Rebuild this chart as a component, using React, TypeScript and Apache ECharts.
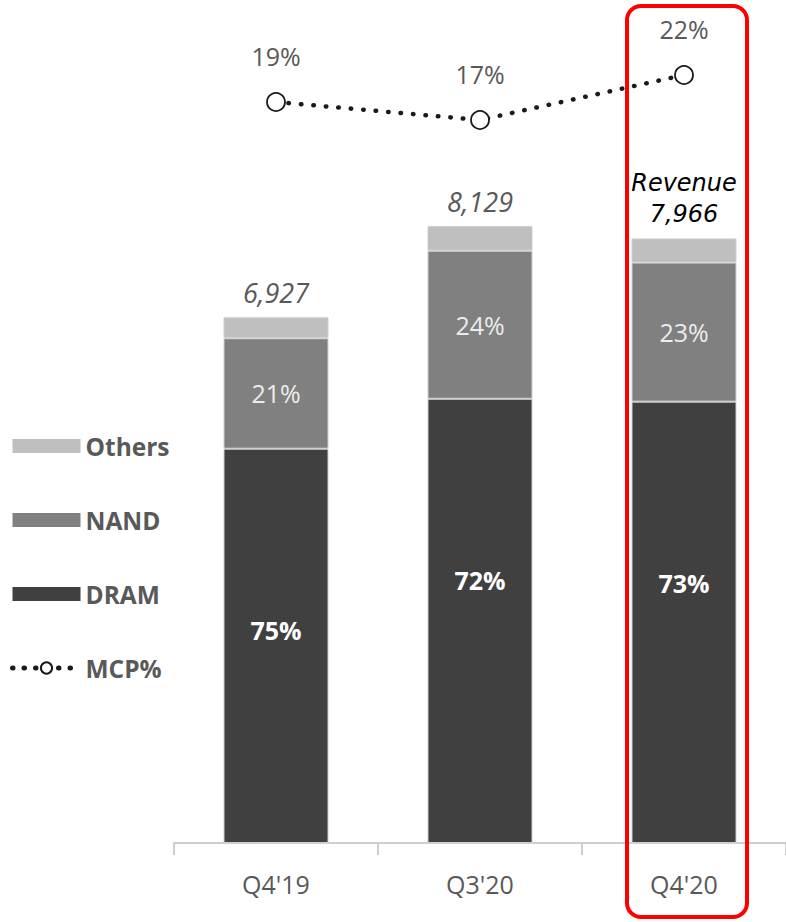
import React, { useEffect, useRef } from "react";
import * as echarts from "echarts";

const quarters = ["Q4'19", "Q3'20", "Q4'20"];
const revenue = [6927, 8129, 7966];
const dramPct = [75, 72, 73];
const nandPct = [21, 24, 23];
const othersPct = [4, 4, 4];
const mcpPct = [19, 17, 22];

const FONT = "'Open Sans', 'Noto Sans', sans-serif";
const WIDE_FONT = "'DejaVu Sans', Verdana, sans-serif";
const GREY_TEXT = "#595959";
const SEG_BORDER = { borderColor: "#cfcfcf", borderWidth: 1 };

export default function App() {
  const ref = useRef<HTMLDivElement>(null);

  useEffect(() => {
    if (!ref.current) return;
    const chart = echarts.init(ref.current, undefined, { renderer: "svg" });

    const part = (pct: number[]) => revenue.map((t, i) => (t * pct[i]) / 100);

    const option: echarts.EChartsOption = {
      animation: false,
      textStyle: { fontFamily: FONT },
      legend: {
        orient: "vertical",
        left: 5,
        top: 427,
        itemWidth: 68,
        itemHeight: 14,
        itemGap: 46,
        data: [
          { name: "Others", icon: "rect", itemStyle: { borderWidth: 0 } },
          { name: "NAND", icon: "rect", itemStyle: { borderWidth: 0 } },
          { name: "DRAM", icon: "rect", itemStyle: { borderWidth: 0 } },
          {
            name: "MCP%",
            lineStyle: { width: 5, type: [0.5, 11], cap: "round", color: "#1a1a1a" },
          },
        ],
        textStyle: {
          color: GREY_TEXT,
          fontSize: 24.5,
          fontWeight: "bold",
          fontFamily: FONT,
          lineHeight: 28,
        },
      },
      grid: [
        { left: 174, right: -3, top: 84, bottom: 79 },
        { left: 174, right: -3, top: 3, bottom: 649 },
      ],
      xAxis: [
        {
          type: "category",
          gridIndex: 0,
          data: quarters,
          axisLine: { lineStyle: { color: "#bfbfbf", width: 1.5 } },
          axisTick: { show: true, length: 12, lineStyle: { color: "#bfbfbf", width: 1.5 } },
          axisLabel: { color: GREY_TEXT, fontSize: 25, margin: 28, fontFamily: FONT },
        },
        {
          type: "category",
          gridIndex: 1,
          data: quarters,
          show: false,
        },
      ],
      yAxis: [
        { type: "value", gridIndex: 0, min: 0, max: 10000, show: false },
        { type: "value", gridIndex: 1, min: 0, max: 30, show: false },
      ],
      series: [
        {
          name: "DRAM",
          type: "bar",
          stack: "rev",
          barWidth: 105,
          data: part(dramPct),
          itemStyle: { color: "#404040", ...SEG_BORDER },
          label: {
            show: true,
            position: "insideTop",
            distance: 169,
            color: "#ffffff",
            fontSize: 25,
            fontWeight: "bold",
            fontFamily: FONT,
            formatter: (p: any) => `${dramPct[p.dataIndex]}%`,
          },
        },
        {
          name: "NAND",
          type: "bar",
          stack: "rev",
          data: part(nandPct),
          itemStyle: { color: "#808080", ...SEG_BORDER },
          label: {
            show: true,
            position: "inside",
            color: "#ececec",
            fontSize: 25,
            fontFamily: FONT,
            formatter: (p: any) => `${nandPct[p.dataIndex]}%`,
          },
        },
        {
          name: "Others",
          type: "bar",
          stack: "rev",
          data: part(othersPct),
          itemStyle: { color: "#bfbfbf", ...SEG_BORDER },
          label: {
            show: true,
            position: "top",
            distance: 9,
            fontFamily: FONT,
            formatter: (p: any) => {
              const v = revenue[p.dataIndex].toLocaleString("en-US");
              return p.dataIndex === quarters.length - 1 ? `{hl|Revenue}\n{hl|${v}}` : `{tot|${v}}`;
            },
            rich: {
              tot: { color: GREY_TEXT, fontSize: 27, fontStyle: "italic", fontFamily: FONT, lineHeight: 32 },
              hl: { color: "#000000", fontSize: 24, fontStyle: "italic", fontFamily: WIDE_FONT, lineHeight: 31 },
            },
          },
        },
        {
          name: "MCP%",
          type: "line",
          xAxisIndex: 1,
          yAxisIndex: 1,
          data: mcpPct,
          symbol: "circle",
          symbolSize: 18,
          lineStyle: { color: "#1a1a1a", width: 4.5, type: [0.5, 12], cap: "round" },
          itemStyle: { color: "#ffffff", borderColor: "#1a1a1a", borderWidth: 1.8 },
          label: {
            show: true,
            position: "top",
            distance: 24,
            color: GREY_TEXT,
            fontSize: 25,
            fontFamily: FONT,
            formatter: (p: any) => `${p.value}%`,
          },
          z: 5,
        },
      ],
      graphic: [
        {
          type: "rect",
          shape: { x: 627, y: 6, width: 120, height: 911, r: 14 },
          style: { fill: "none", stroke: "#ff0000", lineWidth: 4 },
          z: 100,
        },
      ],
    };

    chart.setOption(option);
    return () => chart.dispose();
  }, []);

  return (
    <div
      ref={ref}
      style={{ position: "absolute", left: 0, top: 0, width: 786, height: 922, background: "#ffffff" }}
    />
  );
}
